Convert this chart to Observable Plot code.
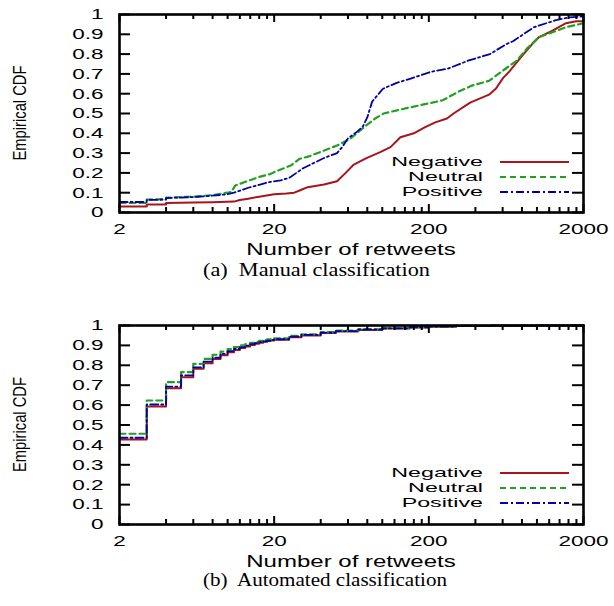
<!DOCTYPE html>
<html><head><meta charset="utf-8">
<script src="https://cdn.jsdelivr.net/npm/d3@7"></script>
<script src="https://cdn.jsdelivr.net/npm/@observablehq/plot@0.6"></script>
<style>
body{margin:0;background:#fff;}
#fig{position:relative;width:614px;height:606px;overflow:hidden;background:#fff;}
#fig svg{position:absolute;left:0;}
</style></head><body><div id="fig"></div>
<script>
// ---------- data ----------
const seriesNames = ["Negative", "Neutral", "Positive"];
const seriesColors = ["#a8141a", "#22a022", "#0000a8"];
const seriesDash = [null, "6,4", "8,3,2,3"];
const seriesWidth = [2, 2.2, 1.8];

const xMajorTicks = [2, 20, 200, 2000];
const xMinorTicks = [4, 6, 8, 10, 12, 14, 16, 18, 40, 60, 80, 100, 120, 140, 160, 180, 400, 600, 800, 1000, 1200, 1400, 1600, 1800];
const yTicks = [0, 0.1, 0.2, 0.3, 0.4, 0.5, 0.6, 0.7, 0.8, 0.9, 1];
const xTitle = "Number of retweets";
const yTitle = "Empirical CDF";
const captions = ["(a)  Manual classification", "(b)  Automated classification"];

// (a) Manual classification: [retweets, CDF]
const manualNegative = [[2,0.03],[3,0.03],[3,0.04],[4,0.04],[4,0.048],[6,0.05],[8,0.052],[11,0.055],[12,0.063],[13.6,0.07],[16,0.08],[20,0.092],[24,0.096],[27,0.1],[30,0.115],[33,0.128],[42,0.141],[51,0.158],[58,0.2],[65,0.24],[79,0.275],[97,0.305],[113,0.33],[131,0.38],[160,0.4],[188,0.43],[220,0.455],[262,0.475],[289,0.5],[370,0.555],[490,0.595],[542,0.625],[605,0.68],[660,0.71],[806,0.793],[935,0.852],[1032,0.886],[1261,0.919],[1542,0.956],[1794,0.966],[2000,0.966]];
const manualNeutral = [[2,0.048],[3,0.048],[3,0.065],[4,0.068],[4,0.075],[6,0.08],[8,0.088],[10,0.1],[10.6,0.105],[11.2,0.136],[13.6,0.16],[16,0.18],[19,0.195],[20.4,0.207],[25.6,0.237],[29,0.27],[34,0.285],[51,0.338],[62,0.372],[76,0.43],[90,0.475],[102,0.5],[138,0.524],[205,0.553],[246,0.567],[311,0.61],[380,0.641],[490,0.665],[598,0.715],[735,0.765],[867,0.83],[1032,0.886],[1261,0.91],[1542,0.936],[2000,0.956]];
const manualPositive = [[2,0.053],[3,0.053],[3,0.063],[4,0.065],[4,0.073],[6,0.078],[8,0.085],[10,0.092],[11,0.1],[13.6,0.125],[16,0.14],[19,0.155],[22,0.162],[25,0.175],[31,0.225],[42,0.275],[51,0.3],[55,0.33],[60,0.375],[68,0.405],[75,0.435],[80,0.48],[86,0.56],[101,0.625],[124,0.655],[151,0.675],[205,0.71],[266,0.727],[363,0.768],[497,0.8],[633,0.85],[700,0.865],[958,0.936],[1310,0.97],[1600,0.985],[2000,0.99]];

// (b) Automated classification: [retweets, CDF]
const autoNegative = [[2,0.427],[3,0.593],[4,0.685],[5,0.74],[6,0.783],[7,0.81],[8,0.832],[9,0.851],[10,0.866],[11,0.877],[12,0.887],[13,0.895],[14,0.902],[15,0.908],[16,0.913],[17,0.918],[18,0.922],[19,0.925],[20,0.928],[25,0.941],[30,0.95],[40,0.962],[50,0.97],[70,0.978],[100,0.985],[150,0.99],[200,0.994],[300,0.997],[500,0.999],[1000,1],[2000,1]];
const autoNeutral = [[2,0.456],[3,0.623],[4,0.715],[5,0.766],[6,0.807],[7,0.832],[8,0.853],[9,0.869],[10,0.881],[11,0.891],[12,0.9],[13,0.907],[14,0.913],[15,0.918],[16,0.923],[17,0.927],[18,0.93],[19,0.933],[20,0.936],[25,0.948],[30,0.956],[40,0.967],[50,0.974],[70,0.981],[100,0.987],[150,0.992],[200,0.995],[300,0.998],[500,0.999],[1000,1],[2000,1]];
const autoPositive = [[2,0.436],[3,0.603],[4,0.693],[5,0.749],[6,0.79],[7,0.818],[8,0.839],[9,0.857],[10,0.871],[11,0.882],[12,0.891],[13,0.899],[14,0.906],[15,0.911],[16,0.916],[17,0.92],[18,0.924],[19,0.928],[20,0.931],[25,0.944],[30,0.953],[40,0.964],[50,0.972],[70,0.98],[100,0.986],[150,0.991],[200,0.995],[300,0.998],[500,0.999],[1000,1],[2000,1]];

// ---------- drawing ----------
const SANS = "'Liberation Sans', Arial, Helvetica, sans-serif";
const SERIF = "'Liberation Serif', 'Times New Roman', serif";
const STRETCH = 1.5;
const LEGEND_STRETCH = 1.72;
const fig = document.getElementById("fig");

function panel(seriesData, opts) {
  const {top, height, marginBottom, curve, caption, captionLen, captionY} = opts;
  const marginTop = 14, marginLeft = 119, marginRight = 31, width = 614;
  const frameH = height - marginTop - marginBottom;
  const frameW = width - marginLeft - marginRight;
  const rows = [];
  seriesNames.forEach((name, i) => seriesData[i].forEach(([x, y]) => rows.push({series: name, x, y})));
  const lineMarks = seriesNames.map((name, i) => Plot.line(rows.filter(d => d.series === name), {
    x: "x", y: "y", stroke: seriesColors[i], strokeWidth: seriesWidth[i],
    strokeDasharray: seriesDash[i], curve
  }));
  const plot = Plot.plot({
    width, height, marginTop, marginBottom, marginLeft, marginRight,
    style: {fontFamily: SANS, fontSize: "15px", color: "black", background: "white", overflow: "visible"},
    x: {type: "log", domain: [2, 2000]},
    y: {domain: [0, 1]},
    marks: [
      ...lineMarks,
      Plot.ruleX(xMajorTicks, {x: d => d, insetTop: frameH - 8, stroke: "black", strokeWidth: 2}),
      Plot.ruleX(xMajorTicks, {x: d => d, insetBottom: frameH - 8, stroke: "black", strokeWidth: 2}),
      Plot.ruleX(xMinorTicks, {x: d => d, insetTop: frameH - 5, stroke: "black", strokeWidth: 2}),
      Plot.ruleX(xMinorTicks, {x: d => d, insetBottom: frameH - 5, stroke: "black", strokeWidth: 2}),
      Plot.ruleY(yTicks, {y: d => d, insetRight: frameW - 11, stroke: "black", strokeWidth: 2}),
      Plot.ruleY(yTicks, {y: d => d, insetLeft: frameW - 11, stroke: "black", strokeWidth: 2}),
      Plot.frame({stroke: "black", strokeWidth: 2.6}),
      Plot.axisX({ticks: xMajorTicks, tickSize: 0, tickPadding: 11, tickFormat: d => String(d), fontSize: 15, label: null}),
      Plot.axisY({ticks: yTicks, tickSize: 0, tickPadding: 16, tickFormat: d => String(d), fontSize: 15, label: null})
    ]
  });
  plot.style.top = top + "px";
  fig.appendChild(plot);
  const svg = d3.select(plot);

  // x title
  svg.append("text").attr("class", "stretch")
    .attr("x", marginLeft + frameW / 2).attr("y", marginTop + frameH + 43)
    .attr("text-anchor", "middle").attr("font-family", SANS).attr("font-size", 16)
    .attr("fill", "black").text(xTitle);
  // y title (rotated, condensed)
  svg.append("text")
    .attr("transform", `translate(26,${marginTop + frameH / 2}) rotate(-90)`)
    .attr("text-anchor", "middle").attr("font-family", SANS).attr("font-size", 18)
    .attr("textLength", 95).attr("lengthAdjust", "spacingAndGlyphs")
    .attr("fill", "black").text(yTitle);
  // legend
  const lg = svg.append("g");
  seriesNames.forEach((name, i) => {
    const y = 161 + i * 15;
    lg.append("text").attr("class", "legend").attr("x", 483).attr("y", y).attr("dy", "0.36em")
      .attr("text-anchor", "end").attr("font-family", SANS).attr("font-size", 13.5).attr("fill", "black").text(name);
    lg.append("line").attr("x1", 500).attr("x2", 569).attr("y1", y + 1).attr("y2", y + 1)
      .attr("stroke", seriesColors[i]).attr("stroke-width", seriesWidth[i])
      .attr("stroke-dasharray", seriesDash[i]);
  });
  // caption
  svg.append("text").attr("x", 203).attr("y", captionY)
    .attr("text-anchor", "start")
    .attr("font-family", SERIF).attr("font-size", 19.5).attr("fill", "black")
    .attr("textLength", captionLen).attr("lengthAdjust", "spacingAndGlyphs")
    .style("white-space", "pre").text(caption);

  // horizontally stretched sans text (as in the source figure)
  const stretch = (sel, k) => sel.each(function () {
    const L = this.getComputedTextLength();
    this.setAttribute("textLength", L * k);
    this.setAttribute("lengthAdjust", "spacingAndGlyphs");
  });
  stretch(svg.selectAll("g[aria-label$='tick label'] text, text.stretch"), STRETCH);
  stretch(svg.selectAll("text.legend"), LEGEND_STRETCH);
}

panel([manualNegative, manualNeutral, manualPositive],
  {top: 0, height: 300, marginBottom: 88, curve: "linear", caption: captions[0], captionLen: 227, captionY: 276});
panel([autoNegative, autoNeutral, autoPositive],
  {top: 311, height: 295, marginBottom: 82, curve: "step-after", caption: captions[1], captionLen: 244, captionY: 275});
</script>
</body></html>
